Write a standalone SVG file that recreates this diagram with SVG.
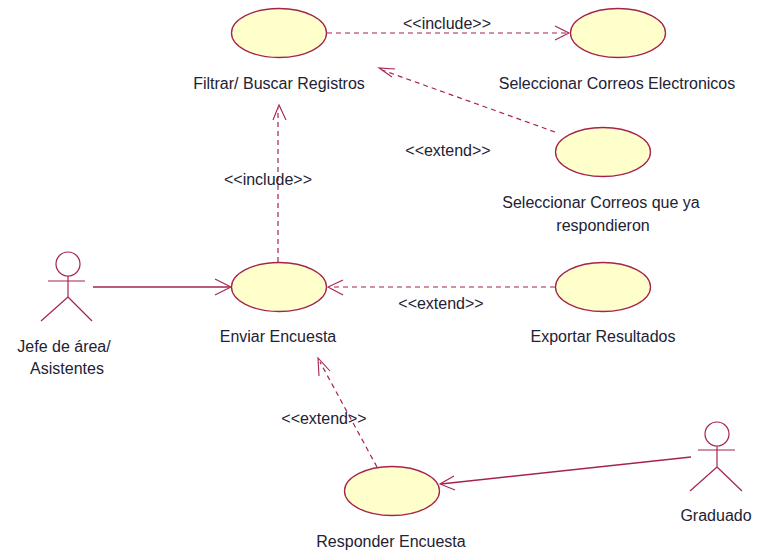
<svg xmlns="http://www.w3.org/2000/svg" width="759" height="556" viewBox="0 0 759 556">
<style>
.uc{fill:#ffffcb;stroke:#a6234e;stroke-width:1.3}
.fig{fill:none;stroke:#a6234e;stroke-width:1.2}
.as{fill:none;stroke:#a6234e;stroke-width:1.5}
.dep{fill:none;stroke:#a6234e;stroke-width:1.2;stroke-dasharray:5 4}
.head{fill:none;stroke:#a6234e;stroke-width:1.1}
text{font-family:"Liberation Sans",Arial,sans-serif;font-size:16px;fill:#222233;text-anchor:middle}
</style>
<rect width="759" height="556" fill="#ffffff"/>
<g id="connectors">
<path class="dep" d="M327 33H568"/><path class="head" d="M555 26L569 33L555 40"/>
<path class="dep" d="M555 132L382 70"/><path class="head" d="M392 77L379 68L395 69"/>
<path class="dep" d="M278 262V108"/><path class="head" d="M273 120L279 105L286 120"/>
<path class="as" d="M93 287H230"/><path class="head" d="M215 279L231 287L215 295"/>
<path class="dep" d="M555 287H330"/><path class="head" d="M343 280L328 287L343 295"/>
<path class="dep" d="M377 467L320 362"/><path class="head" d="M319 376L318 358L330 371"/>
<path class="as" d="M691 457L441 484"/><path class="head" d="M454 476L440 484L455 490"/>
</g>
<g id="uc-filtrar"><ellipse class="uc" cx="279" cy="33" rx="47.500" ry="24.500"/><text x="279" y="89">Filtrar/ Buscar Registros</text></g>
<g id="uc-correos"><ellipse class="uc" cx="618" cy="33" rx="47.500" ry="24.500"/><text x="617" y="89">Seleccionar Correos Electronicos</text></g>
<g id="uc-respondieron"><ellipse class="uc" cx="603" cy="152" rx="47.500" ry="24.500"/><text x="601" y="208">Seleccionar Correos que ya</text><text x="603" y="231">respondieron</text></g>
<g id="uc-enviar"><ellipse class="uc" cx="279" cy="287" rx="47.500" ry="24.500"/><text x="278" y="342">Enviar Encuesta</text></g>
<g id="uc-exportar"><ellipse class="uc" cx="603" cy="287" rx="47.500" ry="24.500"/><text x="603" y="342">Exportar Resultados</text></g>
<g id="uc-responder"><ellipse class="uc" cx="392" cy="491" rx="47.500" ry="24.500"/><text x="391" y="547">Responder Encuesta</text></g>
<g id="actor-jefe"><circle class="fig" cx="68" cy="264" r="12"/><path class="fig" d="M68 276V297M48 281H85M68 297L41 321M68 297L92 321"/><text x="64" y="352">Jefe de área/</text><text x="67" y="374">Asistentes</text></g>
<g id="actor-graduado"><circle class="fig" cx="717" cy="434" r="12"/><path class="fig" d="M717 446V467M698 450H735M717 467L690 491M717 467L742 491"/><text x="716" y="521">Graduado</text></g>
<g id="labels">
<text x="447" y="29">&lt;&lt;include&gt;&gt;</text>
<text x="448" y="156">&lt;&lt;extend&gt;&gt;</text>
<text x="268" y="185">&lt;&lt;include&gt;&gt;</text>
<text x="441" y="309">&lt;&lt;extend&gt;&gt;</text>
<text x="324" y="424">&lt;&lt;extend&gt;&gt;</text>
</g>
</svg>
